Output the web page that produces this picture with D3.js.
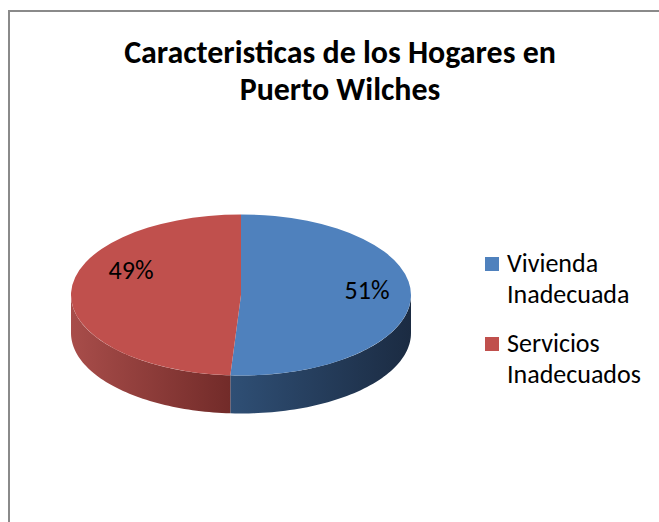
<!DOCTYPE html>
<html>
<head>
<meta charset="utf-8">
<script src="https://cdn.jsdelivr.net/npm/d3@7"></script>
<style>
  body { margin: 0; background: #fff; }
  svg { display: block; }
</style>
</head>
<body>
<script>
// data
let categories = ['Vivienda Inadecuada', 'Servicios Inadecuados']
let legendLines = [['Vivienda', 'Inadecuada'], ['Servicios', 'Inadecuados']]
let values = [51, 49]
let titleLines = ['Caracteristicas de los Hogares en', 'Puerto Wilches']

function buildChart () {
  let width = 659
  let height = 522

  let svg = d3.select('body').append('svg')
    .attr('width', width)
    .attr('height', height)

  // chart area border (only left & top show inside the window)
  svg.append('rect')
    .attr('x', 9).attr('y', 11)
    .attr('width', 700).attr('height', 600)
    .attr('fill', 'none')
    .attr('stroke', '#8a8a8a')
    .attr('stroke-width', 2)

  let font = 'Calibri, Carlito, Lato, "Open Sans", sans-serif'

  // scale a text selection's font so the node reaches a target width
  function fitFont (sel, node, target, base) {
    let w = node.getComputedTextLength()
    sel.attr('font-size', base * target / w)
  }

  // title
  let title = svg.append('g')
  title.selectAll('text')
    .data(titleLines)
    .enter().append('text')
    .attr('x', 340)
    .attr('y', function (d, i) { return 63 + i * 37 })
    .attr('text-anchor', 'middle')
    .attr('font-family', font)
    .attr('font-weight', 'bold')
    .attr('font-size', 24)
    .attr('fill', '#000')
    .text(function (d) { return d })
  fitFont(title.selectAll('text'), title.select('text').node(), 432, 24)

  // pie geometry
  let cx = 241, cy = 295, rx = 170, ry = 80.5, depth = 38
  let topColors = ['#4f81bd', '#c0504d']
  let sideStops = [['#2f4f75', '#1b2b42'], ['#a84d4a', '#722b29']]

  let pie = d3.pie().sort(null).value(function (d) { return d })
  let arcs = pie(values)

  let defs = svg.append('defs')
  arcs.forEach(function (a, i) {
    let x0 = cx + rx * Math.sin(Math.max(a.startAngle, Math.PI / 2))
    let x1 = cx + rx * Math.sin(Math.min(a.endAngle, 3 * Math.PI / 2))
    let g = defs.append('linearGradient')
      .attr('id', 'side' + i)
      .attr('gradientUnits', 'userSpaceOnUse')
      .attr('x1', Math.min(x0, x1)).attr('x2', Math.max(x0, x1))
      .attr('y1', 0).attr('y2', 0)
    g.append('stop').attr('offset', 0).attr('stop-color', sideStops[i][0])
    g.append('stop').attr('offset', 1).attr('stop-color', sideStops[i][1])
  })

  function px (t) { return cx + rx * Math.sin(t) }
  function py (t) { return cy - ry * Math.cos(t) }

  // side walls (front half only)
  let sides = svg.append('g')
  arcs.forEach(function (a, i) {
    let s = Math.max(a.startAngle, Math.PI / 2)
    let e = Math.min(a.endAngle, 3 * Math.PI / 2)
    if (e <= s) return
    let n = 60
    let top = d3.range(n + 1).map(function (k) { let t = s + (e - s) * k / n; return [px(t), py(t)] })
    let bot = top.slice().reverse().map(function (p) { return [p[0], p[1] + depth] })
    sides.append('path')
      .attr('d', d3.line()(top.concat(bot)) + 'Z')
      .attr('fill', 'url(#side' + i + ')')
  })

  // top faces: circular arcs squashed into an ellipse
  let arc = d3.arc().innerRadius(0).outerRadius(rx)
  let topG = svg.append('g')
    .attr('transform', 'translate(' + cx + ',' + cy + ') scale(1,' + (ry / rx) + ')')
  topG.selectAll('path')
    .data(arcs)
    .enter().append('path')
    .attr('d', arc)
    .attr('fill', function (d, i) { return topColors[i] })

  // percent labels
  let labelPos = [[367, 299], [131, 279]]
  let pct = svg.selectAll('.pct')
    .data(arcs)
    .enter().append('text')
    .attr('class', 'pct')
    .attr('x', function (d, i) { return labelPos[i][0] })
    .attr('y', function (d, i) { return labelPos[i][1] })
    .attr('text-anchor', 'middle')
    .attr('font-family', font)
    .attr('font-size', 22)
    .attr('fill', '#000')
    .text(function (d) { return Math.round(d.value) + '%' })
  fitFont(pct, pct.node(), 45, 22)

  // legend
  let legend = svg.append('g')
  let items = legend.selectAll('g')
    .data(categories)
    .enter().append('g')
    .attr('transform', function (d, i) { return 'translate(485,' + (257 + i * 80) + ')' })
  items.append('rect')
    .attr('width', 14).attr('height', 14)
    .attr('fill', function (d, i) { return topColors[i] })
  items.each(function (d, i) {
    d3.select(this).selectAll('text')
      .data(legendLines[i])
      .enter().append('text')
      .attr('x', 22)
      .attr('y', function (l, j) { return 15 + j * 31 })
      .attr('font-family', font)
      .attr('font-size', 21)
      .attr('fill', '#000')
      .text(function (l) { return l })
  })
  let legendText = legend.selectAll('text')
  let longest = legendText.filter(function (l) { return l === 'Inadecuados' }).node()
  fitFont(legendText, longest, 134, 21)
}

buildChart()
</script>
</body>
</html>
